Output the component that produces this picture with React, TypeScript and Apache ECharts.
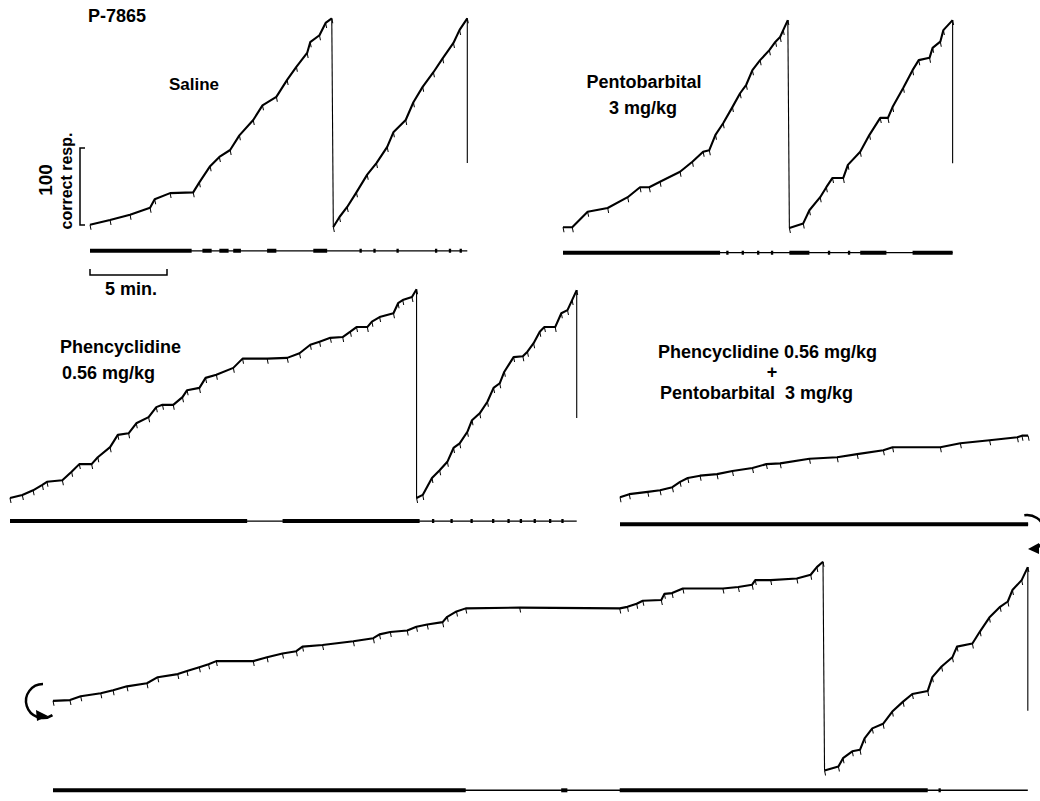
import React, { useEffect, useRef } from "react";
import * as echarts from "echarts";

// ---- data: [minutes, cumulative correct responses (pen position)] ----
const salineRun1 = [[0,3],[1.3,9],[2.6,16],[3.9,25],[4.2,36],[5.2,44],[6.7,45],[7.1,58],[7.8,79],[8.4,91],[9.1,100],[9.7,119],[10.6,139],[11.2,158],[12.1,169],[12.8,191],[13.4,208],[14.1,226],[14.3,240],[14.9,249],[15.3,265],[15.7,271]];
const salineRun2 = [[15.8,0],[16.2,13],[16.7,26],[17.3,45],[18.0,68],[18.6,83],[19.3,104],[19.7,123],[20.5,139],[21.0,162],[21.6,182],[22.3,201],[22.9,219],[23.6,239],[24.0,256],[24.5,271]];
const salineEndPen = 83;
const salineEventsDense = [[0,6.6],[7.3,7.9],[8.4,9.0],[9.3,9.8],[11.5,12.1],[14.5,15.4]];
const salineEventsSparse = [[17.5,17.65],[18.4,18.55],[19.9,20.05],[22.4,22.55],[23.3,23.45],[24.0,24.15]];

const pentoRun1 = [[0,1],[0.6,1],[1.6,21],[2.9,26],[4.2,40],[5.0,53],[5.6,53],[6.3,60],[7.6,73],[8.4,86],[9.1,99],[9.5,101],[9.9,121],[10.4,136],[11.0,157],[11.5,175],[11.9,186],[12.3,205],[12.8,218],[13.4,231],[13.8,242],[14.1,248],[14.3,257],[14.6,270]];
const pentoRun2 = [[14.7,0],[15.6,6],[16.0,23],[16.7,40],[17.1,53],[17.5,65],[18.2,65],[18.5,82],[19.3,99],[19.9,121],[20.6,143],[21.1,143],[21.4,157],[22.1,182],[22.7,205],[23.1,218],[23.8,221],[24.0,234],[24.5,242],[24.7,257],[25.3,270]];
const pentoEndPen = 84;
const pentoEventsDense = [[0,10.2],[14.7,16.0],[19.3,21.0],[22.7,25.3]];
const pentoEventsSparse = [[10.6,10.75],[11.6,11.75],[12.6,12.75],[13.5,13.65],[17.2,17.35],[18.5,18.65]];

const pcpRun1 = [[0,0],[0.8,4],[1.5,10],[2.1,17],[2.4,21],[3.4,23],[4.0,34],[4.5,44],[5.3,44],[5.7,53],[6.5,66],[7.0,82],[7.7,84],[8.2,97],[9.0,105],[9.5,118],[9.9,121],[10.6,121],[11.2,131],[11.5,140],[12.3,143],[12.7,156],[13.4,160],[14.5,169],[15.1,181],[16.7,181],[18.0,182],[18.8,188],[19.5,199],[20.1,203],[20.8,208],[21.6,209],[22.1,216],[22.5,222],[23.2,222],[23.5,229],[24.0,235],[24.9,240],[25.2,253],[25.5,257],[26.1,261],[26.4,271]];
const pcpRun2 = [[26.4,0],[26.8,4],[27.4,26],[27.9,36],[28.4,47],[28.8,65],[29.2,71],[29.7,86],[30.0,101],[30.5,110],[31.0,125],[31.4,143],[31.8,149],[32.1,164],[32.7,183],[33.3,184],[33.6,190],[34.0,201],[34.4,216],[34.7,222],[35.4,222],[35.8,240],[36.2,244],[36.5,257],[36.8,270]];
const pcpEndPen = 104;
const pcpEventsDense = [[0,15.4],[17.7,26.6]];
const pcpEventsSparse = [[27.4,27.55],[28.6,28.75],[29.9,30.05],[31.3,31.45],[32.3,32.45],[33.1,33.25],[34.0,34.15],[35.0,35.15],[35.8,35.95]];

const comboRun1 = [[0,1],[0.6,5],[1.8,8],[2.6,10],[3.4,14],[3.9,21],[4.4,26],[5.2,29],[6.3,31],[7.3,35],[8.6,39],[9.5,44],[10.4,45],[12.3,51],[14.1,53],[15.4,57],[17.1,62],[17.7,66],[20.8,66],[22.1,71],[24.0,75],[25.8,79],[26.1,81],[26.5,81]];
const comboEventsDense = [[0,26.5]];
const comboEventsSparse: number[][] = [];

const contRun1 = [[0,91],[1.1,92],[1.8,97],[3.1,101],[3.9,105],[4.8,110],[6.1,114],[6.8,122],[8.1,126],[8.7,130],[9.5,135],[10.1,139],[10.6,143],[13.0,143],[13.9,148],[14.9,153],[15.8,156],[16.2,162],[17.5,164],[19.5,169],[20.8,173],[21.2,178],[21.9,181],[23.0,183],[23.6,188],[24.3,191],[25.3,194],[25.6,201],[26.2,208],[26.8,212],[30.3,213],[36.8,212],[37.3,214],[37.9,218],[38.3,222],[39.5,223],[39.7,231],[40.2,232],[40.9,238],[43.5,238],[44.5,240],[45.4,243],[45.6,249],[46.6,249],[48.3,251],[49.2,256],[49.6,266],[50.0,273]];
const contRun2 = [[50.1,0],[51.0,5],[51.3,16],[51.9,25],[52.4,27],[52.7,42],[53.2,55],[53.9,61],[54.5,77],[55.2,90],[55.8,100],[56.8,104],[57.1,122],[57.7,136],[58.4,148],[58.7,162],[59.7,166],[60.2,182],[60.8,200],[61.5,214],[62.0,221],[62.3,236],[62.9,249],[63.3,266]];
const contEndPen = 78;
const contEventsDense = [[0,26.8],[33.0,33.4],[36.8,56.8]];
const contEventsSparse = [[57.5,57.65]];

// ---- layout ----
const PX_PER_MIN = 77 / 5;
const PX_PER_RESP = 77 / 100;
const Y_MAX = 280;
const Y_MIN = -40;

const panels = [
  { x0: 90, y0: 227, xMax: 25, eventPen: -31, runs: [salineRun1, salineRun2], endPen: salineEndPen, dense: salineEventsDense, sparse: salineEventsSparse },
  { x0: 563, y0: 228, xMax: 26, eventPen: -32, runs: [pentoRun1, pentoRun2], endPen: pentoEndPen, dense: pentoEventsDense, sparse: pentoEventsSparse },
  { x0: 10, y0: 498, xMax: 37, eventPen: -30, runs: [pcpRun1, pcpRun2], endPen: pcpEndPen, dense: pcpEventsDense, sparse: pcpEventsSparse },
  { x0: 620, y0: 498, xMax: 27, eventPen: -34, runs: [comboRun1], endPen: null, dense: comboEventsDense, sparse: comboEventsSparse },
  { x0: 53, y0: 772, xMax: 64, eventPen: -26, runs: [contRun1, contRun2], endPen: contEndPen, dense: contEventsDense, sparse: contEventsSparse },
];

const PIP = "path://M0,0 L2,0 L4,10 L2,10 Z";
const FONT = "Liberation Sans";

function buildOption() {
  const grid: any[] = [];
  const xAxis: any[] = [];
  const yAxis: any[] = [];
  const series: any[] = [];
  panels.forEach((p, gi) => {
    grid.push({
      left: p.x0,
      top: p.y0 - Y_MAX * PX_PER_RESP,
      width: p.xMax * PX_PER_MIN,
      height: (Y_MAX - Y_MIN) * PX_PER_RESP,
      containLabel: false,
    });
    xAxis.push({ type: "value", gridIndex: gi, min: 0, max: p.xMax, show: false });
    yAxis.push({ type: "value", gridIndex: gi, min: Y_MIN, max: Y_MAX, show: false });
    const base = { type: "line", xAxisIndex: gi, yAxisIndex: gi, silent: true, animation: false };
    p.runs.forEach((run) => {
      series.push({
        ...base,
        data: run,
        symbol: PIP,
        symbolSize: [2, 5],
        symbolOffset: [0.5, 2.5],
        showSymbol: true,
        itemStyle: { color: "#000" },
        lineStyle: { color: "#000", width: 2.1, join: "round" },
        z: 3,
      });
    });
    for (let i = 0; i < p.runs.length - 1; i++) {
      const a = p.runs[i][p.runs[i].length - 1];
      const b = p.runs[i + 1][0];
      series.push({ ...base, data: [a, b], symbol: "none", lineStyle: { color: "#000", width: 1.1 }, z: 2 });
    }
    if (p.endPen !== null) {
      const last = p.runs[p.runs.length - 1];
      const e = last[last.length - 1];
      series.push({ ...base, data: [e, [e[0], p.endPen]], symbol: "none", lineStyle: { color: "#000", width: 1.1 }, z: 2 });
    }
    const lastRun = p.runs[p.runs.length - 1];
    const tEnd = lastRun[lastRun.length - 1][0];
    series.push({ ...base, data: [[0, p.eventPen], [tEnd, p.eventPen]], symbol: "none", lineStyle: { color: "#000", width: 1.4, cap: "butt" } });
    p.dense.forEach((d) => {
      series.push({ ...base, data: [[d[0], p.eventPen], [d[1], p.eventPen]], symbol: "none", lineStyle: { color: "#000", width: 4, cap: "butt" } });
    });
    p.sparse.forEach((d) => {
      series.push({ ...base, data: [[d[0], p.eventPen], [d[1], p.eventPen]], symbol: "none", lineStyle: { color: "#000", width: 4, cap: "butt" } });
    });
  });

  const txt = (text: string, x: number, y: number, size: number, align = "center", rotation = 0) => ({
    type: "text",
    x,
    y,
    rotation,
    style: { text, fontSize: size, fontFamily: FONT, fontWeight: "bold", fill: "#000", align, verticalAlign: "middle" },
  });

  const graphic = [
    txt("P-7865", 88, 16, 18, "left"),
    txt("Saline", 194, 84, 17),
    txt("Pentobarbital", 644, 82, 18),
    txt("3 mg/kg", 643, 108, 18),
    txt("100", 45, 180, 19, "center", Math.PI / 2),
    txt("correct resp.", 66, 181, 16, "center", Math.PI / 2),
    txt("5 min.", 131, 289, 18),
    txt("Phencyclidine", 60, 347, 18, "left"),
    txt("0.56 mg/kg", 62, 373, 18, "left"),
    txt("Phencyclidine 0.56 mg/kg", 658, 352, 18, "left"),
    txt("+", 772, 372, 18),
    txt("Pentobarbital  3 mg/kg", 660, 393, 18, "left"),
    { type: "polyline", shape: { points: [[85, 148], [80, 148], [80, 225], [85, 225]] }, style: { stroke: "#000", lineWidth: 1.5, fill: null } },
    { type: "polyline", shape: { points: [[90, 269], [90, 275], [167, 275], [167, 269]] }, style: { stroke: "#000", lineWidth: 1.5, fill: null } },
    { type: "arc", shape: { cx: 43, cy: 701, r: 17, startAngle: -Math.PI / 2, endAngle: Math.PI / 3.2, clockwise: false }, style: { stroke: "#000", lineWidth: 2.5, fill: null } },
    { type: "polygon", shape: { points: [[48, 716], [36, 710], [37, 721]] }, style: { fill: "#000" } },
    { type: "arc", shape: { cx: 1027, cy: 533, r: 18, startAngle: -Math.PI / 2 - 0.15, endAngle: Math.PI / 2 - 0.35, clockwise: true }, style: { stroke: "#000", lineWidth: 2.5, fill: null } },
    { type: "polygon", shape: { points: [[1028, 549], [1039, 543], [1039, 554]] }, style: { fill: "#000" } },
  ];

  return {
    animation: false,
    backgroundColor: "#fff",
    grid,
    xAxis,
    yAxis,
    series,
    graphic: { elements: graphic },
  };
}

export default function App() {
  const ref = useRef<HTMLDivElement>(null);
  useEffect(() => {
    if (!ref.current) return;
    const chart = echarts.init(ref.current, null, { renderer: "svg" });
    chart.setOption(buildOption() as any);
    return () => chart.dispose();
  }, []);
  return (
    <div
      ref={ref}
      style={{ position: "fixed", left: 0, top: 0, width: 1040, height: 801, background: "#fff" }}
    />
  );
}
